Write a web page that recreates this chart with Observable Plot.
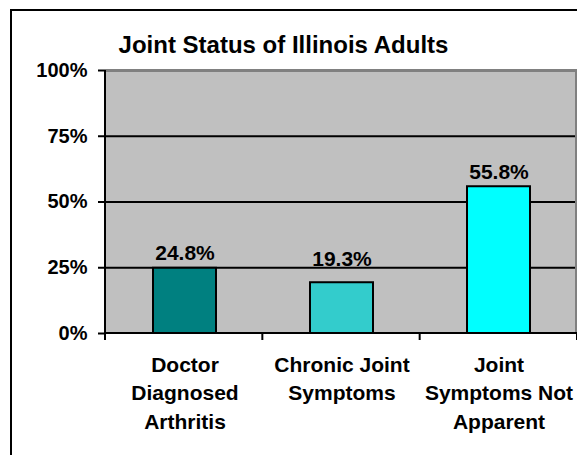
<!DOCTYPE html>
<html>
<head>
<meta charset="utf-8">
<script src="https://cdn.jsdelivr.net/npm/d3@7"></script>
<script src="https://cdn.jsdelivr.net/npm/@observablehq/plot@0.6"></script>
<style>
  html, body { margin: 0; padding: 0; background: #fff; }
  #wrap { position: relative; width: 577px; height: 455px; overflow: hidden; }
  #border { position: absolute; left: 10px; top: 9px; width: 700px; height: 600px;
            border: 2px solid #000; pointer-events: none; }
  #wrap svg { position: absolute; left: 0; top: 0; }
</style>
</head>
<body>
<div id="wrap"><div id="border"></div></div>
<script>
const title = "Joint Status of Illinois Adults";
const categories = ["Doctor Diagnosed Arthritis", "Chronic Joint Symptoms", "Joint Symptoms Not Apparent"];
const categoryLines = ["Doctor\nDiagnosed\nArthritis", "Chronic Joint\nSymptoms", "Joint\nSymptoms Not\nApparent"];
const values = [24.8, 19.3, 55.8];
const colors = ["#008080", "#33CCCC", "#00FFFF"];
const yTicks = [0, 25, 50, 75, 100];
const gridTicks = [25, 50, 75];

const data = categories.map((c, i) => ({category: c, label: categoryLines[i], value: values[i], color: colors[i]}));

const font = "'Liberation Sans', Arial, Helvetica, sans-serif";

const axesDecor = (index, scales, vals, dimensions) => {
  const {width, height, marginLeft, marginRight, marginTop, marginBottom} = dimensions;
  const x0 = marginLeft, x1 = width - marginRight, y0 = marginTop, y1 = height - marginBottom;
  const g = d3.create("svg:g");
  // right gray edge of plot area
  g.append("line").attr("x1", x1 - 1).attr("x2", x1 - 1).attr("y1", y0).attr("y2", y1)
    .attr("stroke", "#808080").attr("stroke-width", 2);
  // x ticks at category boundaries
  const n = categories.length;
  for (let k = 0; k <= n; k++) {
    const xx = x0 + k * (x1 - x0) / n;
    g.append("line").attr("x1", xx).attr("x2", xx).attr("y1", y1).attr("y2", y1 + 7)
      .attr("stroke", "#000").attr("stroke-width", 2);
  }
  // left axis line
  g.append("line").attr("x1", x0).attr("x2", x0).attr("y1", y0).attr("y2", y1 + 7)
    .attr("stroke", "#000").attr("stroke-width", 2);
  // bottom axis line
  g.append("line").attr("x1", x0).attr("x2", x1).attr("y1", y1).attr("y2", y1)
    .attr("stroke", "#000").attr("stroke-width", 2);
  return g.node();
};

const valueLabel = {
  x: "category", y: "value", text: d => d.value.toFixed(1) + "%",
  lineAnchor: "bottom", fontSize: 21, fontWeight: "bold", fill: "#000"
};

const chart = Plot.plot({
  width: 577,
  height: 455,
  marginLeft: 105,
  marginRight: 0,
  marginTop: 70,
  marginBottom: 122,
  style: {fontFamily: font, background: "transparent", overflow: "visible"},
  x: {domain: categories, paddingInner: 0.6, paddingOuter: 0.3, axis: null},
  y: {domain: [0, 100], axis: null},
  marks: [
    Plot.frame({fill: "#C0C0C0", stroke: null}),
    Plot.ruleY(gridTicks, {stroke: "#000", strokeWidth: 2}),
    Plot.ruleY([100], {stroke: "#808080", strokeWidth: 3}),
    Plot.barY(data, {x: "category", y: "value", fill: "color", stroke: "#000", strokeWidth: 2}),
    axesDecor,
    Plot.axisY(yTicks, {
      label: null,
      tickSize: 7, tickPadding: 11, stroke: "#000", strokeWidth: 2,
      tickFormat: d => d + "%", fontSize: 20, fontWeight: "bold", fill: "#000"
    }),
    // value labels (the middle one sits clear of the 25% gridline, as in the original)
    Plot.text(data, {...valueLabel, filter: (d, i) => i !== 1, dy: -8}),
    Plot.text(data, {...valueLabel, filter: (d, i) => i === 1, dy: -17}),
    Plot.text(data, {
      x: "category", text: "label", frameAnchor: "bottom", dy: 18,
      lineAnchor: "top", lineHeight: 1.36, fontSize: 21, fontWeight: "bold", fill: "#000"
    }),
    Plot.text([title], {
      text: d => d, frameAnchor: "top", dx: -58, dy: -18, lineAnchor: "bottom",
      fontSize: 24, fontWeight: "bold", fill: "#000"
    })
  ]
});

document.getElementById("wrap").insertBefore(chart, document.getElementById("border"));
</script>
</body>
</html>
